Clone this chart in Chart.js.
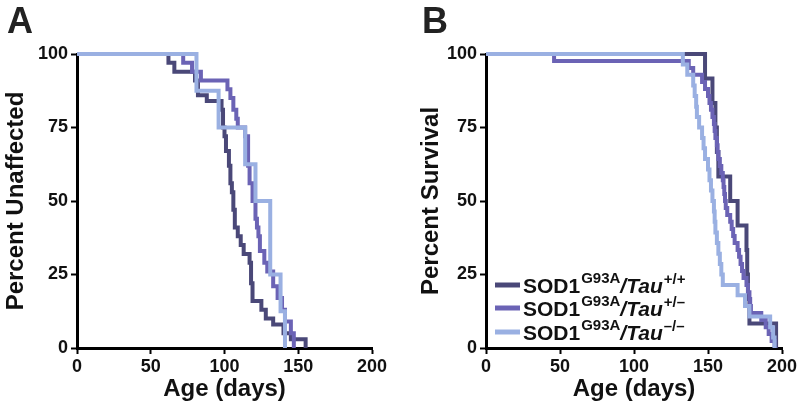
<!DOCTYPE html>
<html>
<head>
<meta charset="utf-8">
<script src="https://cdn.jsdelivr.net/npm/chart.js@4/dist/chart.umd.min.js"></script>
<style>
  body { margin: 0; background: #fff; }
  .wrap { position: absolute; top: 0; width: 400px; height: 412px; }
</style>
</head>
<body>
<div class="wrap" style="left:0"><canvas id="chartA" width="400" height="412"></canvas></div>
<div class="wrap" style="left:400px"><canvas id="chartB" width="400" height="412"></canvas></div>
<script>
// Tick labels
const xTicks = [0, 50, 100, 150, 200];
const yTicks = [0, 25, 50, 75, 100];

// Panel A - onset (percent unaffected)
const ageA_pp = [0, 62, 66, 80, 82, 88, 98, 99, 100, 101, 103, 104, 105, 106, 107, 109, 111, 113, 117, 118, 119, 125, 128, 133, 140, 145, 155];
const pctA_pp = [100, 97, 94, 91, 86, 84, 81, 75, 72, 67, 62, 56, 53, 47, 41, 38, 35, 32, 29, 22, 16, 13, 10, 8, 5, 3, 0];
const ageA_pm = [0, 72, 78, 84, 102, 104, 106, 108, 109, 114, 116, 117, 119, 121, 122, 123, 124, 127, 129, 133, 136, 139, 141, 145, 147];
const pctA_pm = [100, 97, 94, 91, 88, 85, 81, 78, 75, 72, 62, 56, 50, 44, 41, 38, 33, 29, 26, 21, 17, 13, 9, 5, 0];
const ageA_mm = [0, 81, 96, 114, 121, 131, 138, 141];
const pctA_mm = [100, 87.5, 75, 62.5, 50, 25, 12.5, 0];

// Panel B - survival
const ageB_pp = [0, 148, 153, 155, 156, 157, 165, 170, 176, 176.5, 177, 178, 196];
const pctB_pp = [100, 91.7, 83.3, 75, 66.7, 58.3, 50, 41.7, 33.3, 25, 16.7, 8.3, 0];
const ageB_pm = [0, 46, 137, 140, 146, 148, 150, 151, 152, 153, 154, 154.5, 155, 156, 156.5, 157, 158, 159, 160, 160.5, 161, 161.5, 162, 163, 165, 166, 167, 168, 170, 171, 172, 173, 174, 176, 177, 178, 178.5, 179, 186, 189, 191, 193, 195];
const pctB_pm = [100, 97.6, 95.2, 92.9, 90.5, 88.1, 85.7, 83.3, 81, 78.6, 76.2, 73.8, 71.4, 69, 66.7, 64.3, 61.9, 59.5, 57.1, 54.8, 52.4, 50, 47.6, 45.2, 42.9, 40.5, 38.1, 35.7, 33.3, 31, 28.6, 26.2, 23.8, 21.4, 19, 16.7, 14.3, 11.9, 9.5, 7.1, 4.8, 2.4, 0];
const ageB_mm = [0, 133, 136, 140, 141, 142, 142.5, 144, 146, 147, 148, 150, 151, 152, 153, 154, 154.5, 155, 156, 157, 158, 159, 160, 170, 175, 178, 192, 194, 195];
const pctB_mm = [100, 96.4, 92.9, 89.3, 85.7, 82.1, 78.6, 75, 71.4, 67.9, 64.3, 60.7, 57.1, 53.6, 50, 46.4, 42.9, 39.3, 35.7, 32.1, 28.6, 25, 21.4, 17.9, 14.3, 10.7, 7.1, 3.6, 0];

const genotypes = ['+/+', '+/–', '–/–'];
const colors = ['#4a4878', '#6b63b5', '#9ab0e2'];

const FONT = '"Liberation Sans", Arial, sans-serif';

function toPoints(xs, ys) {
    return xs.map((x, i) => ({ x: x, y: ys[i] }));
}

function makeDataset(xs, ys, i) {
    return {
        label: 'SOD1 G93A/Tau ' + genotypes[i],
        data: toPoints(xs, ys),
        borderColor: colors[i],
        borderWidth: 4,
        stepped: true,
        pointRadius: 0,
        fill: false,
        clip: false,
        order: 3 - i
    };
}

// panel letter (A / B)
function panelLetter(letter, x) {
    return {
        id: 'panel' + letter,
        afterDraw(chart) {
            const ctx = chart.ctx;
            ctx.save();
            ctx.fillStyle = '#222';
            ctx.font = 'bold 36px ' + FONT;
            ctx.textBaseline = 'alphabetic';
            ctx.fillText(letter, x, 33);
            ctx.restore();
        }
    };
}

// legend with superscripts, drawn inside panel B
const legendPlugin = {
    id: 'supLegend',
    afterDraw(chart) {
        const ctx = chart.ctx;
        ctx.save();
        const rows = [293, 316, 340];
        rows.forEach((base, i) => {
            ctx.strokeStyle = colors[i];
            ctx.lineWidth = 5;
            ctx.beginPath();
            ctx.moveTo(95, base - 8);
            ctx.lineTo(120, base - 8);
            ctx.stroke();

            let x = 123;
            ctx.fillStyle = '#111';
            ctx.textBaseline = 'alphabetic';
            ctx.font = 'bold 21px ' + FONT;
            ctx.fillText('SOD1', x, base);
            x += ctx.measureText('SOD1').width + 1;
            ctx.font = 'bold 15px ' + FONT;
            ctx.fillText('G93A', x, base - 10);
            x += ctx.measureText('G93A').width;
            ctx.font = 'italic bold 21px ' + FONT;
            ctx.fillText('/Tau', x, base);
            x += ctx.measureText('/Tau').width + 1;
            ctx.font = 'bold 15px ' + FONT;
            ctx.fillText(genotypes[i], x, base - 9);
        });
        ctx.restore();
    }
};

function makeOptions(yTitle, leftPad, yWidth, rightPad) {
    const tickFont = { family: FONT, size: 18, weight: 'bold' };
    const titleFont = { family: FONT, size: 24, weight: 'bold' };
    return {
        responsive: false,
        animation: false,
        layout: { padding: { top: 54, right: rightPad, left: leftPad, bottom: 0 } },
        plugins: { legend: { display: false }, tooltip: { enabled: false } },
        scales: {
            x: {
                type: 'linear',
                min: 0,
                max: 200,
                afterBuildTicks: s => { s.ticks = xTicks.map(v => ({ value: v })); },
                afterFit: s => { s.height = 64; },
                ticks: { color: '#111', font: tickFont, padding: 2, maxRotation: 0 },
                grid: { drawOnChartArea: false, tickLength: 6, tickWidth: 2, tickColor: '#000' },
                border: { display: true, color: '#000', width: 3 },
                title: { display: true, text: 'Age (days)', color: '#111', font: titleFont, padding: { top: 0, bottom: 8 } }
            },
            y: {
                min: 0,
                max: 100,
                afterBuildTicks: s => { s.ticks = yTicks.map(v => ({ value: v })); },
                afterFit: s => { s.width = yWidth; },
                ticks: { color: '#111', font: tickFont, padding: 3 },
                grid: { drawOnChartArea: false, tickLength: 6, tickWidth: 2, tickColor: '#000' },
                border: { display: true, color: '#000', width: 3 },
                title: { display: true, text: yTitle, color: '#111', font: titleFont, padding: { top: 2, bottom: 0 } }
            }
        }
    };
}

new Chart(document.getElementById('chartA'), {
    type: 'line',
    data: {
        datasets: [
            makeDataset(ageA_pp, pctA_pp, 0),
            makeDataset(ageA_pm, pctA_pm, 1),
            makeDataset(ageA_mm, pctA_mm, 2)
        ]
    },
    options: makeOptions('Percent Unaffected', 0, 77, 28),
    plugins: [panelLetter('A', 7)]
});

new Chart(document.getElementById('chartB'), {
    type: 'line',
    data: {
        datasets: [
            makeDataset(ageB_pp, pctB_pp, 0),
            makeDataset(ageB_pm, pctB_pm, 1),
            makeDataset(ageB_mm, pctB_mm, 2)
        ]
    },
    options: makeOptions('Percent Survival', 15, 71, 18),
    plugins: [panelLetter('B', 22), legendPlugin]
});
</script>
</body>
</html>
